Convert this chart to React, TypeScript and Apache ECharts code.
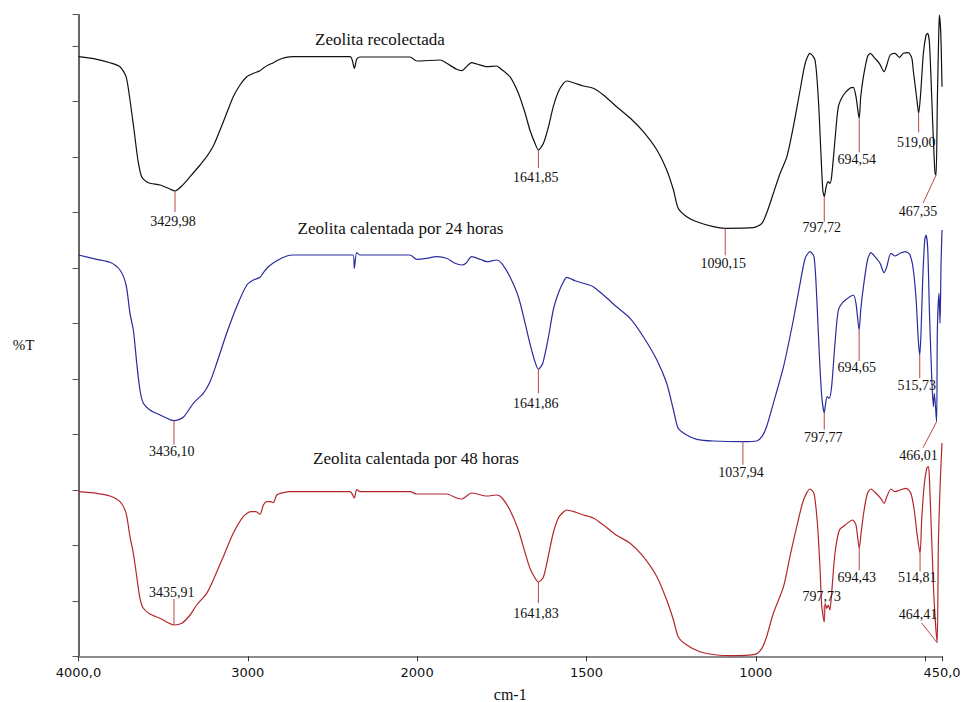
import React, { useEffect, useRef } from 'react';
import * as echarts from 'echarts';

// ---------- data ----------
const seriesNames = [
  'Zeolita recolectada',
  'Zeolita calentada por 24 horas',
  'Zeolita calentada por 48 horas',
];

// x tick labels, keyed by wavenumber (cm-1)
const xTickWavenumbers = [4000, 3000, 2000, 1500, 1000, 500, 450];
const xTickLabels = ['4000,0', '3000', '2000', '1500', '1000', '', '450,0'];

// [wavenumber cm-1, %T (offset, arbitrary units)]
const recolectada: [number, number][] = [
  [4000, 599.6], [3892, 597], [3814, 593.6], [3755, 589.6], [3719, 579.6], [3696, 556.3], [3672, 526.3],
  [3649, 496.3], [3627, 479.6], [3588, 473.6], [3519, 471.3], [3460, 467.3], [3429.98, 465.3], [3390, 470.3],
  [3341, 479.6], [3282, 491.3], [3243, 499.6], [3204, 510.3], [3164, 526.3], [3125, 543], [3086, 559.6],
  [3046, 571.3], [3006, 579.6], [2967, 583], [2928, 585.6], [2908, 588.3], [2879, 591.3], [2849, 593.6],
  [2820, 596.3], [2780, 598.6], [2731, 599.6], [2396, 599.6], [2371, 588], [2357, 597], [2337, 599.3],
  [2042, 599.3], [2002, 595.3], [1932, 596.3], [1913, 593], [1883, 587], [1868, 585.6], [1859, 588],
  [1839, 593.6], [1824, 592.3], [1794, 589.6], [1765, 590.3], [1755, 588], [1726, 579.6], [1701, 563],
  [1681, 543], [1667, 526.3], [1652, 513], [1641.85, 506.3], [1627, 513], [1612, 529.6], [1598, 549.6],
  [1583, 564.6], [1568, 573], [1558, 575.3], [1539, 573.6], [1509, 570.3], [1480, 568], [1450, 561.3],
  [1411, 549.6], [1371, 538.3], [1332, 524.6], [1292, 506.3], [1263, 486.3], [1243, 466.3], [1229, 448],
  [1204, 439.6], [1174, 434.6], [1125, 429.6], [1090.15, 428], [1007, 428.6], [982, 433], [968, 443],
  [948, 463], [928, 483], [908, 499.6], [889, 529.6], [869, 566.3], [854, 593], [840, 603], [825, 596.3],
  [815, 556.3], [808, 506.3], [802, 466.3], [797.72, 459.6], [792, 469.6], [786, 474.6], [781, 473],
  [776, 479.6], [766, 516.3], [756, 549.6], [741, 561.3], [722, 568], [712, 569], [704, 559.6],
  [694.54, 538], [690, 559.6], [682, 579.6], [670, 599.6], [662, 603], [648, 598], [635, 593], [621, 584.6],
  [613, 591.3], [603, 601.3], [589, 603], [576, 599], [564, 603], [549, 603.6], [539, 598], [535, 586.3],
  [524, 556.3], [519.0, 543], [513, 563], [505, 603], [497, 621.3], [492, 623], [487, 613], [480, 556.3],
  [475.5, 516.3], [470.5, 483], [467.35, 481.3], [463.7, 556.3], [459.6, 623], [457.8, 641.3],
  [453.6, 623], [450, 569.6],
];

const calentada24: [number, number][] = [
  [4000, 401.3], [3892, 397], [3814, 394], [3755, 386.3], [3719, 371.3], [3696, 343], [3676, 326.3],
  [3656, 293], [3637, 266.3], [3617, 253], [3578, 246.3], [3519, 241.3], [3436.1, 235.6], [3381, 239],
  [3322, 253], [3263, 263], [3223, 274.6], [3184, 293], [3125, 323], [3066, 349.6], [3006, 371.3],
  [2967, 376.3], [2928, 379], [2908, 383.6], [2879, 389.6], [2829, 395.6], [2770, 400.3], [2731, 401.3],
  [2378, 401.3], [2371, 388], [2357, 403.6], [2337, 401.3], [2042, 401.3], [2002, 397], [1972, 398],
  [1942, 399.6], [1913, 398], [1888, 393], [1868, 391.3], [1856, 393], [1839, 399.6], [1814, 397],
  [1794, 394.6], [1765, 396.3], [1750, 393], [1726, 379.6], [1701, 359.6], [1681, 333], [1667, 313],
  [1652, 294.6], [1641.86, 287], [1629, 293], [1612, 319.6], [1598, 346.3], [1583, 363], [1568, 374.6],
  [1558, 379], [1534, 375.6], [1509, 373], [1480, 369.6], [1450, 361.3], [1411, 349.6], [1371, 338],
  [1332, 319.6], [1292, 296.3], [1263, 273], [1243, 246.3], [1229, 228], [1204, 221.3], [1174, 217],
  [1125, 215.3], [1037.94, 214.6], [997, 215.3], [982, 219.6], [968, 229.6], [948, 253], [918, 289.6],
  [889, 336.3], [869, 373], [854, 398], [840, 404.6], [828, 399.6], [820, 359.6], [812, 299.6],
  [805, 259.6], [797.77, 243.6], [795, 249.6], [789, 259.6], [783, 258], [776, 269.6], [766, 313],
  [756, 346.3], [741, 354.6], [722, 359.6], [712, 361.3], [704, 353], [694.65, 326.3], [690, 346.3],
  [682, 369.6], [670, 396.3], [660, 403.6], [648, 399.6], [633, 393], [621, 383.6], [613, 389.6],
  [601, 403], [589, 400.3], [574, 403], [559, 404.6], [546, 402.3], [536, 389.6], [527, 359.6],
  [520, 316.3], [515.73, 301.3], [512, 323], [507, 376.3], [501, 416.3], [497, 421.3], [492, 406.3],
  [487, 343], [480, 276.3], [475.5, 249.6], [472.6, 263], [466.01, 234.6], [463.7, 326.3], [458.7, 363],
  [455.7, 333], [452.8, 393], [450, 426.3],
];

const calentada48: [number, number][] = [
  [4000, 164.6], [3892, 163], [3814, 160.3], [3755, 154.6], [3719, 143], [3696, 119.6], [3676, 103],
  [3656, 79.6], [3637, 58], [3617, 48], [3578, 42.3], [3519, 38], [3470, 33.6], [3435.91, 31.3],
  [3390, 33], [3341, 41.3], [3302, 51.3], [3243, 63], [3204, 76.3], [3145, 99.6], [3086, 123],
  [3027, 139.6], [2983, 144.6], [2952, 144.6], [2928, 142], [2908, 151.3], [2888, 154.6], [2865, 154.6],
  [2849, 153.6], [2829, 161.3], [2790, 163.6], [2751, 164.6], [2396, 164.6], [2371, 158.3], [2357, 166.8],
  [2337, 164.6], [2042, 164.6], [2002, 162.3], [1913, 162.3], [1883, 158.3], [1868, 157.3], [1839, 163.3],
  [1794, 160.3], [1765, 161.3], [1749, 158.3], [1726, 146.3], [1701, 126.3], [1681, 103.3], [1667, 88.3],
  [1652, 78.3], [1641.83, 74.3], [1627, 79.3], [1612, 101.3], [1598, 123.3], [1583, 138.3], [1568, 144.3],
  [1558, 146.3], [1534, 144.3], [1509, 141.3], [1480, 138.3], [1450, 131.3], [1411, 121], [1371, 113],
  [1332, 99.6], [1292, 79.6], [1263, 56.3], [1243, 36.3], [1229, 19.6], [1204, 11.3], [1165, 4.6],
  [1115, 1.3], [1076, 0.6], [1002, 2], [982, 8], [968, 19.6], [948, 43], [918, 69.6], [899, 99.6],
  [879, 129.6], [859, 156.3], [840, 167.3], [828, 163], [818, 133], [810, 86.3], [805, 49.6],
  [797.73, 34.6], [795, 53], [790, 48], [786, 51.3], [781, 46.3], [776, 63], [766, 103], [753, 126.3],
  [736, 131.3], [714, 136.3], [704, 131.3], [694.43, 108], [689, 123], [680, 146.3], [670, 163],
  [660, 167.3], [645, 163], [631, 158], [621, 153], [613, 159.6], [601, 167.3], [589, 164.6], [574, 166.3],
  [556, 168], [542, 163], [532, 146.3], [524, 123], [514.81, 103], [510, 136.3], [503, 169.6], [495, 188],
  [490, 189.6], [487, 176.3], [480, 113], [473.4, 56.3], [464.41, 13.6], [460.7, 113], [455.7, 169.6],
  [450, 213.3],
];

// labelled minima: [wavenumber, %T]
const peaksRecolectada: [number, number][] = [
  [3429.98, 465.3], [1641.85, 506.3], [1090.15, 428], [797.72, 459.6], [694.54, 538], [519.0, 543], [467.35, 481.3],
];
const peaks24: [number, number][] = [
  [3436.1, 235.6], [1641.86, 287], [1037.94, 214.6], [797.77, 243.6], [694.65, 326.3], [515.73, 301.3], [466.01, 234.6],
];
const peaks48: [number, number][] = [
  [3435.91, 31.3], [1641.83, 74.3], [797.73, 34.6], [694.43, 108], [514.81, 103], [464.41, 13.6],
];

// ---------- layout (pixel offsets of leader lines / labels from each minimum) ----------
type Lay = { line: [number, number]; text: [number, number] };
const layRecolectada: Lay[] = [
  { line: [0, 21], text: [-2, 30] },
  { line: [0, 18], text: [-2.6, 27] },
  { line: [0, 27], text: [-2, 35] },
  { line: [0, 25], text: [-2.5, 31] },
  { line: [0, 34], text: [-2.4, 41] },
  { line: [0, 19], text: [-2.3, 29] },
  { line: [-13, 28], text: [-18, 36] },
];
const lay24: Lay[] = [
  { line: [0, 24], text: [-2.3, 31] },
  { line: [0, 24], text: [-2.6, 34] },
  { line: [0, 23], text: [-2, 31] },
  { line: [0, 17], text: [-1, 25] },
  { line: [0, 31], text: [-2.4, 37] },
  { line: [0, 23], text: [-3, 30] },
  { line: [-13.5, 26], text: [-18, 34] },
];
const lay48: Lay[] = [
  { line: [0, -26], text: [-2.3, -33] },
  { line: [0, 21], text: [-2.4, 31] },
  { line: [0, -16], text: [-2.5, -25] },
  { line: [0, 22], text: [-2.4, 29] },
  { line: [0, 18], text: [-2.7, 24] },
  { line: [-15.4, -19.7], text: [-19, -28] },
];

const COLORS = ['#111111', '#2b2c9c', '#b3272c'];
const LEADER = '#b9474a';
const SERIF = '"Liberation Serif", "Times New Roman", serif';

// piecewise wavenumber scale: 4000-2000 compressed, 2000-450 expanded x2
const toU = (w: number) => (w >= 2000 ? 4000 - w : 2000 + 2 * (2000 - w));
const fmt = (w: number) => w.toFixed(2).replace('.', ',');

function lineSeries(name: string, data: [number, number][], color: string) {
  return {
    name,
    type: 'line',
    data: data.map(([w, v]) => [toU(w), v]),
    showSymbol: false,
    symbol: 'none',
    smooth: 0.25,
    lineStyle: { color, width: 1.2 },
    z: 3,
  };
}

function annotationSeries(peaks: [number, number][], lay: Lay[]) {
  return {
    type: 'custom',
    coordinateSystem: 'cartesian2d',
    silent: true,
    z: 4,
    data: peaks.map(([w, v]) => [toU(w), v]),
    renderItem: (params: any, api: any) => {
      const p = api.coord([api.value(0), api.value(1)]);
      const a = lay[params.dataIndex];
      const label = fmt(peaks[params.dataIndex][0]);
      return {
        type: 'group',
        children: [
          {
            type: 'line',
            shape: { x1: p[0], y1: p[1], x2: p[0] + a.line[0], y2: p[1] + a.line[1] },
            style: { stroke: LEADER, lineWidth: 1 },
          },
          {
            type: 'text',
            x: p[0] + a.text[0],
            y: p[1] + a.text[1],
            style: {
              text: label,
              fill: '#111',
              font: `14px ${SERIF}`,
              textAlign: 'center',
              textVerticalAlign: 'middle',
              align: 'center',
              verticalAlign: 'middle',
            },
          },
        ],
      };
    },
  };
}

const tickU = xTickWavenumbers.map(toU);

const option: any = {
  animation: false,
  backgroundColor: '#ffffff',
  grid: { left: 78.5, right: 23, top: 14.7, bottom: 45.7, containLabel: false, outerBoundsMode: 'none' },
  xAxis: {
    type: 'value',
    min: toU(4000),
    max: toU(450),
    interval: 1000,
    name: 'cm-1',
    nameLocation: 'middle',
    nameGap: 30,
    nameTextStyle: { fontFamily: SERIF, fontSize: 16, color: '#111' },
    axisLine: { show: true, onZero: false, lineStyle: { color: '#8c8c8c', width: 2 } },
    axisTick: { show: true, length: 5, lineStyle: { color: '#333', width: 1 } },
    axisLabel: {
      show: true,
      margin: 10,
      fontFamily: '"DejaVu Sans", Tahoma, sans-serif',
      fontSize: 13,
      color: '#111',
      showMinLabel: true,
      showMaxLabel: true,
      formatter: (u: number) => {
        const i = tickU.findIndex((t) => Math.abs(t - u) < 1e-6);
        return i >= 0 ? xTickLabels[i] : '';
      },
    },
    splitLine: { show: false },
  },
  yAxis: {
    type: 'value',
    min: 0,
    max: 641.6,
    interval: 55.5,
    name: '%T',
    nameLocation: 'middle',
    nameRotate: 0,
    nameGap: 44,
    nameTextStyle: { fontFamily: SERIF, fontSize: 15, color: '#111', verticalAlign: 'top', padding: [2, 0, 0, 0] },
    axisLine: { show: true, lineStyle: { color: '#333', width: 1.5 } },
    axisTick: { show: true, length: 6, lineStyle: { color: '#555', width: 1 } },
    axisLabel: { show: false },
    splitLine: { show: false },
  },
  graphic: [
    { type: 'text', x: 380, y: 39, style: { text: seriesNames[0], font: `17px ${SERIF}`, fill: '#111', textAlign: 'center', textVerticalAlign: 'middle' } },
    { type: 'text', x: 400.5, y: 228, style: { text: seriesNames[1], font: `17px ${SERIF}`, fill: '#111', textAlign: 'center', textVerticalAlign: 'middle' } },
    { type: 'text', x: 416, y: 458, style: { text: seriesNames[2], font: `17px ${SERIF}`, fill: '#111', textAlign: 'center', textVerticalAlign: 'middle' } },
  ],
  series: [
    annotationSeries(peaksRecolectada, layRecolectada),
    annotationSeries(peaks24, lay24),
    annotationSeries(peaks48, lay48),
    lineSeries(seriesNames[0], recolectada, COLORS[0]),
    lineSeries(seriesNames[1], calentada24, COLORS[1]),
    lineSeries(seriesNames[2], calentada48, COLORS[2]),
  ],
};

export default function App() {
  const ref = useRef<HTMLDivElement>(null);
  useEffect(() => {
    if (!ref.current) return;
    const chart = echarts.init(ref.current, null, { renderer: 'svg' });
    chart.setOption(option);
    return () => chart.dispose();
  }, []);
  return (
    <div
      ref={ref}
      style={{ position: 'fixed', left: 0, top: 0, width: 965, height: 702, background: '#fff' }}
    />
  );
}
